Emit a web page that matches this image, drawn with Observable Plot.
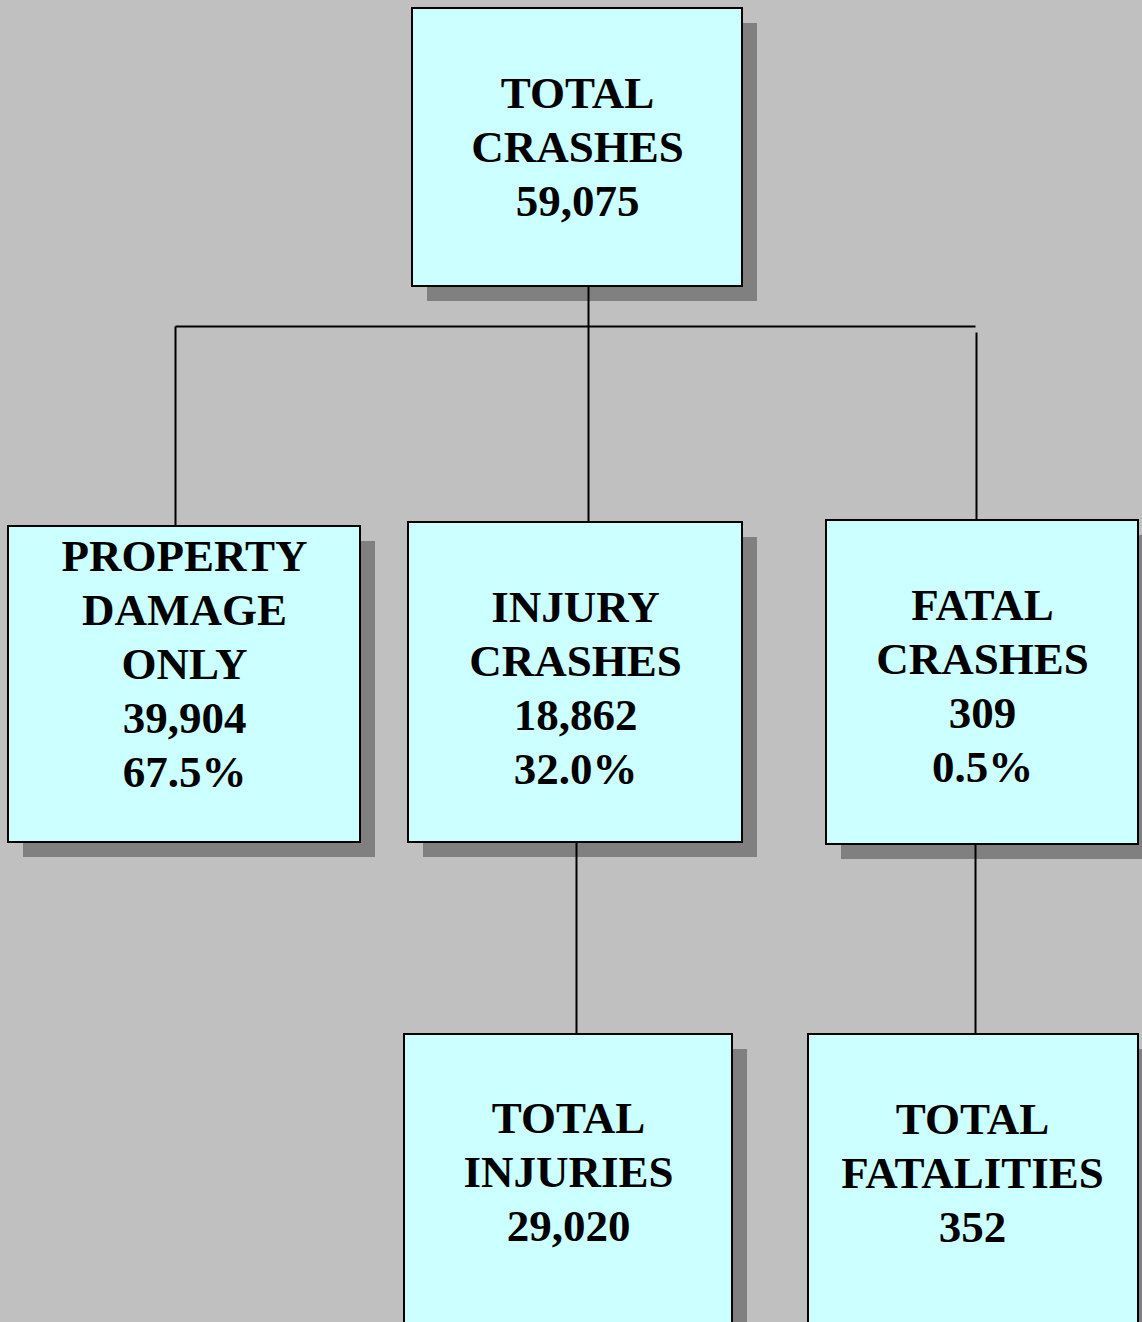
<!DOCTYPE html>
<html>
<head>
<meta charset="utf-8">
<script src="https://cdn.jsdelivr.net/npm/d3@7"></script>
<script src="https://cdn.jsdelivr.net/npm/@observablehq/plot@0.6"></script>
<style>
  html, body { margin: 0; padding: 0; background: #c0c0c0; overflow: hidden; }
  #chart svg { display: block; }
</style>
</head>
<body>
<div id="chart"></div>
<script>
// ---- data ----
const nodeIds   = ["total", "pdo", "injury", "fatal", "injuries", "fatalities"];
const nodeNames = ["TOTAL\nCRASHES", "PROPERTY\nDAMAGE\nONLY", "INJURY\nCRASHES", "FATAL\nCRASHES", "TOTAL\nINJURIES", "TOTAL\nFATALITIES"];
const nodeValues = [59075, 39904, 18862, 309, 29020, 352];
const nodeShares = [null, "67.5%", "32.0%", "0.5%", null, null];
const parents   = [null, "total", "total", "total", "injury", "fatal"];

// ---- layout (diagram geometry, kept separate from data) ----
const boxX1   = [412,   8, 408,  826,  404,  808];
const boxX2   = [742, 360, 742, 1138,  732, 1138];
const boxY1   = [  8, 526, 522,  520, 1034, 1034];
const boxY2   = [286, 842, 842,  844, 1340, 1340];
const textX   = [577, 184, 575,  982,  568,  972];
const textY   = [144, 661, 685,  683, 1169, 1170];
const stemX   = [null, 175, 588, 976, 576, 975];
const stemTop = [null, 326, 326, 332, null, null];
const busY = 326;
const shadow = 15;

const fmt = d3.format(",");
const nodes = nodeIds.map((id, i) => ({
  id,
  label: [nodeNames[i], fmt(nodeValues[i]), nodeShares[i]].filter(Boolean).join("\n"),
  parent: parents[i],
  x1: boxX1[i], x2: boxX2[i], y1: boxY1[i], y2: boxY2[i],
  tx: textX[i], ty: textY[i], sx: stemX[i], st: stemTop[i]
}));
const byId = new Map(nodes.map(n => [n.id, n]));

// connectors derived from tree structure
const segs = [];
const rootKids = nodes.filter(n => n.parent === "total");
const root = byId.get("total");
const mid = rootKids.find(k => k.sx > root.x1 && k.sx < root.x2);
segs.push({x1: mid.sx, y1: root.y2, x2: mid.sx, y2: busY});
segs.push({x1: d3.min(rootKids, k => k.sx), y1: busY, x2: d3.max(rootKids, k => k.sx) - 1, y2: busY});
for (const k of rootKids) segs.push({x1: k.sx, y1: k.st, x2: k.sx, y2: k.y1});
for (const n of nodes) {
  if (n.parent && n.parent !== "total") {
    const p = byId.get(n.parent);
    segs.push({x1: n.sx, y1: p.y2, x2: n.sx, y2: n.y1});
  }
}

const W = 1142, H = 1322;
const chart = Plot.plot({
  width: W, height: H,
  margin: 0,
  x: {domain: [0, W], range: [0, W], axis: null},
  y: {domain: [0, H], range: [0, H], axis: null},
  style: {background: "#c0c0c0"},
  marks: [
    Plot.rect(nodes, {x1: d => d.x1 + shadow, x2: d => d.x2 + shadow, y1: d => d.y1 + shadow, y2: d => d.y2 + shadow, fill: "#808080"}),
    Plot.link(segs, {x1: "x1", y1: "y1", x2: "x2", y2: "y2", stroke: "#000", strokeWidth: 2}),
    Plot.rect(nodes, {x1: "x1", x2: "x2", y1: "y1", y2: "y2", fill: "#ccffff", stroke: "#000", strokeWidth: 2}),
    Plot.text(nodes, {x: "tx", y: "ty", text: "label", fontSize: 45, fontWeight: "bold",
      fontFamily: "'Liberation Serif', 'Times New Roman', serif", lineHeight: 1.2, fill: "#000", lineAnchor: "middle"})
  ]
});
document.getElementById("chart").appendChild(chart);
</script>
</body>
</html>
